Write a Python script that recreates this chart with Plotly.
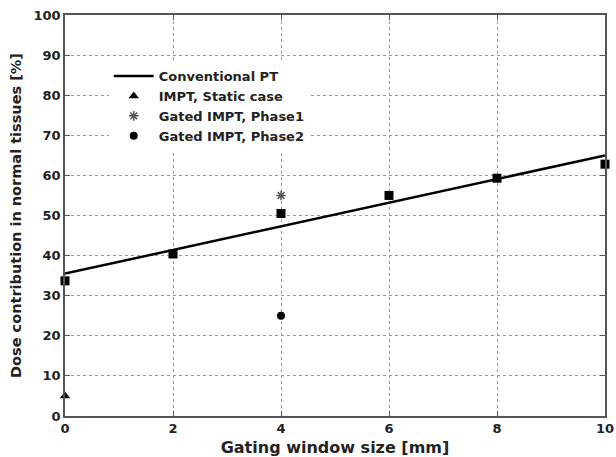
import plotly.graph_objects as go

# Data
fit_x = [0, 10]
fit_y = [35.5, 65.0]
conv_x = [0, 2, 4, 6, 8, 10]
conv_y = [33.7, 40.4, 50.5, 55.0, 59.3, 62.8]
static_x = [0]
static_y = [5]
phase1_x = [4]
phase1_y = [55]
phase2_x = [4]
phase2_y = [25]

x_ticks = [0, 2, 4, 6, 8, 10]
y_ticks = [0, 10, 20, 30, 40, 50, 60, 70, 80, 90, 100]

fig = go.Figure()
fig.add_trace(go.Scatter(x=fit_x, y=fit_y, mode="lines", name="Conventional PT",
                         line=dict(color="black", width=2.5)))
fig.add_trace(go.Scatter(x=static_x, y=static_y, mode="markers", name="IMPT, Static case",
                         marker=dict(symbol="triangle-up", color="black", size=9),
                         cliponaxis=False))
fig.add_trace(go.Scatter(x=phase1_x, y=phase1_y, mode="markers", name="Gated IMPT, Phase1",
                         marker=dict(symbol="asterisk-open", color="#555555", size=8,
                                     line=dict(color="#555555", width=1.5))))
fig.add_trace(go.Scatter(x=phase2_x, y=phase2_y, mode="markers", name="Gated IMPT, Phase2",
                         marker=dict(symbol="circle", color="black", size=8)))
fig.add_trace(go.Scatter(x=conv_x, y=conv_y, mode="markers", showlegend=False,
                         marker=dict(symbol="square", color="black", size=9),
                         cliponaxis=False))

wide = "DejaVu Sans, Liberation Sans, Arial, sans-serif"
fig.update_layout(
    width=616, height=457,
    margin=dict(l=65, r=11, t=15, b=41),
    paper_bgcolor="white", plot_bgcolor="white",
    font=dict(family=wide, size=13, color="#222222"),
    showlegend=True,
    legend=dict(x=0.081, y=0.885, xanchor="left", yanchor="top",
                bgcolor="white", borderwidth=0,
                font=dict(family=wide, size=13, color="#222222", weight="bold"),
                tracegroupgap=0, itemwidth=40),
    xaxis=dict(range=[0, 10], tickvals=x_ticks, ticktext=[str(v) for v in x_ticks],
               automargin=False,
               showgrid=True, gridcolor="#999999", griddash="dot", gridwidth=1,
               zeroline=False, showline=True, linecolor="#555555", linewidth=1.5,
               mirror="ticks", ticks="inside", ticklen=5, tickcolor="#555555",
               tickfont=dict(family=wide, size=13, weight="bold", color="#222222"),
               title=dict(text="Gating window size [mm]",
                          font=dict(family=wide, size=16, weight="bold", color="#222222"))),
    yaxis=dict(range=[0, 100], tickvals=y_ticks, ticktext=[str(v) for v in y_ticks],
               automargin=False,
               showgrid=True, gridcolor="#999999", griddash="dot", gridwidth=1,
               zeroline=False, showline=True, linecolor="#555555", linewidth=1.5,
               mirror="ticks", ticks="inside", ticklen=5, tickcolor="#555555",
               tickfont=dict(family=wide, size=13, weight="bold", color="#222222"),
               title=dict(text="Dose contribution in normal tissues [%]", standoff=8,
                          font=dict(family=wide, size=14.5, weight="bold", color="#222222"))),
)

fig.write_html("out.html")
